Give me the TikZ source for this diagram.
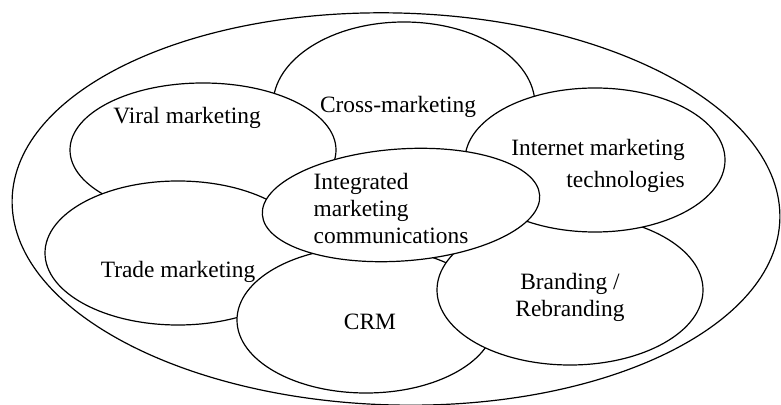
\documentclass[tikz,border=0pt]{standalone}
\usepackage{fontspec}
\setmainfont{Liberation Serif}
\usetikzlibrary{shapes.geometric}
\tikzstyle{bubble} = [ellipse, draw=black, fill=white, line width=0.6pt, inner sep=0pt]
\tikzstyle{tag} = [inner sep=0pt, font=\fontsize{11.7}{13.5}\selectfont]

\begin{document}
\begin{tikzpicture}[x=0.5pt, y=-0.5pt]
        % Frame
        \path[use as bounding box, fill=white] (0,0) rectangle (781,405);
        % Outer ellipse
        \node (mix) [bubble, minimum width=384pt, minimum height=196pt, rotate=-1.5] at (396,209) {};

        % Tools, drawn back to front
        \node (cross) [bubble, minimum width=131pt, minimum height=83pt] at (404,105) {};
        \node (cross_text) [tag] at (398,107) {Cross-marketing};
        \node (viral) [bubble, minimum width=133pt, minimum height=67pt] at (203,150) {};
        \node (viral_text) [tag] at (187,118) {Viral marketing};
        \node (trade) [bubble, minimum width=133pt, minimum height=72pt] at (178,253) {};
        \node (trade_text) [tag] at (178,272) {Trade marketing};
        \node (crm) [bubble, minimum width=129pt, minimum height=73pt] at (366,320) {};
        \node (crm_text) [tag] at (370,322) {CRM};
        \node (brand) [bubble, minimum width=133pt, minimum height=75pt] at (570,290) {};
        \node (brand_text) [tag, align=center] at (570,297) {Branding /\\Rebranding};
        \node (net) [bubble, minimum width=130pt, minimum height=72pt] at (595,160) {};
        \node (net_text) [tag, align=right, font=\fontsize{11.7}{16}\selectfont] at (598,166) {Internet marketing\\technologies};

        % Centre
        \node (imc) [bubble, minimum width=139pt, minimum height=56pt, rotate=4] at (401,205) {};
        \node (imc_text) [tag, align=left] at (391,208) {Integrated\\marketing\\communications};
\end{tikzpicture}
\end{document}
